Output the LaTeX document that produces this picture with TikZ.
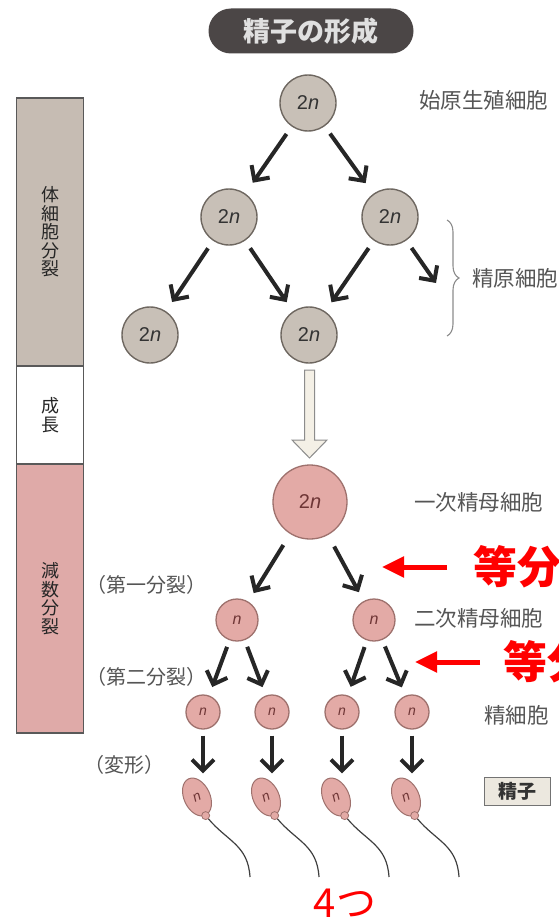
\documentclass[tikz,border=0pt]{standalone}
\usepackage{fontspec}
\setmainfont{Noto Sans CJK JP}
\newfontfamily\latinsf{Liberation Sans}
\usetikzlibrary{arrows.meta,shapes.geometric,decorations.pathreplacing}
\pgfdeclarelayer{edgelayer}
\pgfdeclarelayer{nodelayer}
\pgfsetlayers{edgelayer,nodelayer,main}
\definecolor{cellgray}{HTML}{C8C0B7}
\definecolor{cellgrayline}{HTML}{6E6760}
\definecolor{cellpink}{HTML}{E3AAA6}
\definecolor{cellpinkline}{HTML}{9E716D}
\definecolor{pinktext}{HTML}{6E3535}
\definecolor{bargray}{HTML}{C6BCB3}
\definecolor{barpink}{HTML}{DFAAA8}
\definecolor{labelgray}{HTML}{555555}
\definecolor{arrowblack}{HTML}{262626}
\definecolor{pill}{HTML}{4B4646}
\definecolor{boxfill}{HTML}{ECE8DF}
\definecolor{hollowfill}{HTML}{F4F0E6}
\tikzstyle{graycell}=[circle, fill=cellgray, draw=cellgrayline, line width=1.4pt, minimum size=56pt, inner sep=0pt, text=black!80, font=\latinsf\fontsize{20}{20}\selectfont]
\tikzstyle{pinkcell}=[circle, fill=cellpink, draw=cellpinkline, line width=1.3pt, inner sep=0pt, text=pinktext, font=\latinsf\fontsize{16}{16}\selectfont]
\tikzstyle{head}=[ellipse, fill=cellpink, draw=cellpinkline, line width=1pt, minimum width=26pt, minimum height=40pt, inner sep=0pt, rotate=25, text=pinktext, font=\latinsf\fontsize{14}{14}\selectfont]
\tikzstyle{collar}=[circle, fill=cellpink, draw=cellpinkline, line width=0.8pt, minimum size=8pt, inner sep=0pt]
\tikzstyle{tail}=[draw=black!75, line width=1.2pt]
\tikzstyle{edge}=[draw=arrowblack, line width=4pt, -{Straight Barb[length=11pt,width=22pt]}, shorten <=9pt, shorten >=11pt]
\tikzstyle{redarrow}=[draw=red, line width=5pt, -{Triangle[length=22pt,width=20pt]}]
\tikzstyle{bar}=[rectangle, draw=black!65, line width=1.3pt, minimum width=67pt, align=center, inner sep=0pt, text=black!85, font=\fontsize{18}{18.5}\selectfont]
\tikzstyle{label}=[anchor=west, inner sep=0pt, text=labelgray, font=\fontsize{21.5}{21.5}\selectfont]
\tikzstyle{stage}=[inner sep=0pt, text=labelgray, font=\fontsize{20}{20}\selectfont]
\tikzstyle{redtext}=[anchor=west, inner sep=0pt, text=red, font=\bfseries\fontsize{44}{44}\selectfont]

\begin{document}
\begin{tikzpicture}[x=1pt, y=-1pt]
	\useasboundingbox (0,0) rectangle (559,923);
	\begin{pgfonlayer}{nodelayer}
		\node [rectangle, rounded corners=22.5pt, fill=pill, minimum width=205pt, minimum height=45pt, text=black!12, font=\bfseries\fontsize{27}{27}\selectfont] (ttl) at (311,31) {精子の形成};
		% stage bar on the left
		\node [style=bar, fill=bargray, minimum height=268pt] (sb) at (50,232) {体\\細\\胞\\分\\裂};
		\node [style=bar, fill=white, minimum height=98pt] (gb) at (50,415) {成\\長};
		\node [style=bar, fill=barpink, minimum height=269pt] (mb) at (50,598.5) {減\\数\\分\\裂};
		% spermatogonia
		\node [style=graycell] (1) at (308,103) {2\textit{n}};
		\node [style=graycell] (2) at (229,217) {2\textit{n}};
		\node [style=graycell] (3) at (390,217) {2\textit{n}};
		\node [style=graycell] (4) at (150,335) {2\textit{n}};
		\node [style=graycell] (5) at (309,335) {2\textit{n}};
		% meiosis
		\node [style=pinkcell, minimum size=74pt, font=\latinsf\fontsize{20}{20}\selectfont] (6) at (310,502) {2\textit{n}};
		\node [style=pinkcell, minimum size=42pt] (7) at (237,620) {\textit{n}};
		\node [style=pinkcell, minimum size=42pt] (8) at (374,620) {\textit{n}};
		\node [style=pinkcell, minimum size=34pt, font=\latinsf\fontsize{14}{14}\selectfont] (9) at (203,712) {\textit{n}};
		\node [style=pinkcell, minimum size=34pt, font=\latinsf\fontsize{14}{14}\selectfont] (10) at (272,712) {\textit{n}};
		\node [style=pinkcell, minimum size=34pt, font=\latinsf\fontsize{14}{14}\selectfont] (11) at (342,712) {\textit{n}};
		\node [style=pinkcell, minimum size=34pt, font=\latinsf\fontsize{14}{14}\selectfont] (12) at (412,712) {\textit{n}};
		% sperm heads
		\node [style=head] (13) at (197,797) {\textit{n}};
		\node [style=head] (14) at (266,797) {\textit{n}};
		\node [style=head] (15) at (336,797) {\textit{n}};
		\node [style=head] (16) at (406,797) {\textit{n}};
		\node [style=collar] (c13) at (13.south) {};
		\node [style=collar] (c14) at (14.south) {};
		\node [style=collar] (c15) at (15.south) {};
		\node [style=collar] (c16) at (16.south) {};
		% names on the right
		\node [style=label] (l1) at (419,100) {始原生殖細胞};
		\node [style=label] (l2) at (472,278) {精原細胞};
		\node [style=label] (l3) at (414,502) {一次精母細胞};
		\node [style=label] (l4) at (414,618) {二次精母細胞};
		\node [style=label] (l5) at (484,715) {精細胞};
		\node [rectangle, fill=boxfill, draw=black!55, line width=1pt, minimum width=66pt, minimum height=28pt, inner sep=0pt, text=black!80, font=\bfseries\fontsize{19}{19}\selectfont] (sp) at (517,791) {精子};
		\node [style=stage] (st1) at (146,585) {（第一分裂）};
		\node [style=stage] (st2) at (146,677) {（第二分裂）};
		\node [style=stage] (st3) at (124,765) {（変形）};
		\node [style=redtext] (eq1) at (473,567) {等分};
		\node [style=redtext] (eq2) at (503,662) {等分};
		\node [inner sep=0pt, text=red, font=\fontsize{40}{40}\selectfont] (cnt) at (345,903) {4つ};
	\end{pgfonlayer}
	\begin{pgfonlayer}{edgelayer}
		\fill [white] (0,0) rectangle (559,923);
		\coordinate (fr) at (436,283);
		\coordinate (t1) at (382,567);
		\coordinate (t2) at (415,662);
		\coordinate (e13) at (250,877);
		\coordinate (e14) at (319,877);
		\coordinate (e15) at (389,877);
		\coordinate (e16) at (459,877);
		\draw [style=edge, shorten >=13pt] (1) to (2);
		\draw [style=edge, shorten >=13pt] (1) to (3);
		\draw [style=edge] (2) to (4);
		\draw [style=edge] (2) to (5);
		\draw [style=edge] (3) to (5);
		\draw [style=edge, shorten >=0pt] (3) to (fr);
		\draw [style=edge, shorten <=13pt, shorten >=10pt] (6) to (7);
		\draw [style=edge, shorten <=13pt, shorten >=10pt] (6) to (8);
		\draw [style=edge, shorten <=7pt, shorten >=9pt] (7) to (9);
		\draw [style=edge, shorten <=7pt, shorten >=9pt] (7) to (10);
		\draw [style=edge, shorten <=7pt, shorten >=9pt] (8) to (11);
		\draw [style=edge, shorten <=7pt, shorten >=9pt] (8) to (12);
		\draw [style=edge, shorten <=6pt, shorten >=5pt] (9) to (9 |- 13.north);
		\draw [style=edge, shorten <=6pt, shorten >=5pt] (10) to (10 |- 14.north);
		\draw [style=edge, shorten <=6pt, shorten >=5pt] (11) to (11 |- 15.north);
		\draw [style=edge, shorten <=6pt, shorten >=5pt] (12) to (12 |- 16.north);
		\draw [style=tail] (c13) .. controls +(22,26) and +(-2,-32) .. (e13);
		\draw [style=tail] (c14) .. controls +(22,26) and +(-2,-32) .. (e14);
		\draw [style=tail] (c15) .. controls +(22,26) and +(-2,-32) .. (e15);
		\draw [style=tail] (c16) .. controls +(22,26) and +(-2,-32) .. (e16);
		% growth arrow
		\draw [fill=hollowfill, draw=black!45, line width=1pt] (304.5,370) -- (314.5,370) -- (314.5,440) -- (327,440) -- (309.5,458) -- (292,440) -- (304.5,440) -- cycle;
		\draw [draw=black!45, line width=1.1pt, decorate, decoration={brace, amplitude=12pt}] (447,220) -- (447,336);
		\draw [style=redarrow, shorten <=26pt] (eq1.west) to (t1);
		\draw [style=redarrow, shorten <=23pt] (eq2.west) to (t2);
	\end{pgfonlayer}
\end{tikzpicture}
\end{document}
